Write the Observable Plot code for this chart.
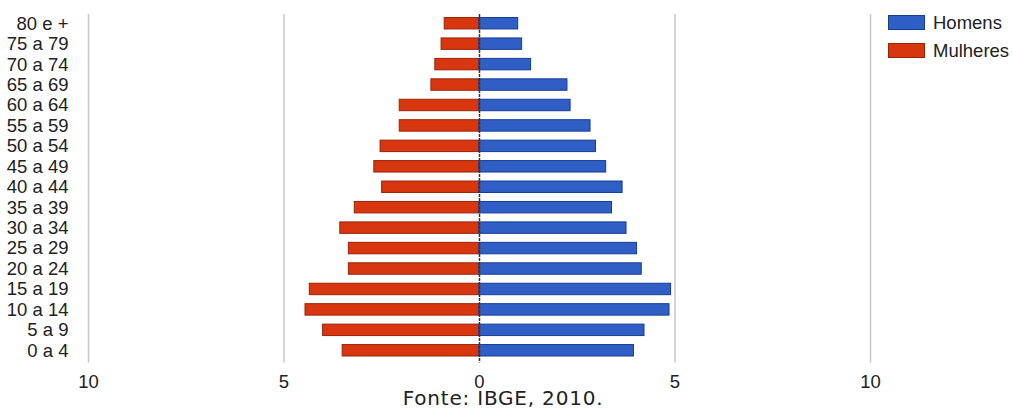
<!DOCTYPE html>
<html>
<head>
<meta charset="utf-8">
<script src="https://cdn.jsdelivr.net/npm/d3@7"></script>
<script src="https://cdn.jsdelivr.net/npm/@observablehq/plot@0.6"></script>
<style>
  html, body { margin: 0; padding: 0; background: #fff; }
  #wrap { position: relative; width: 1013px; height: 409px; overflow: hidden; }
  #legend { position: absolute; left: 888px; top: 8.5px; font-family: "Liberation Sans", Arial, sans-serif; font-size: 18.5px; color: #222; }
  .item { display: flex; align-items: center; height: 28px; }
  .sw { width: 37px; height: 15px; margin-right: 8px; box-sizing: border-box; }
  #caption { position: absolute; left: 0; width: 1006px; top: 386px; text-align: center; font-family: "DejaVu Sans", Verdana, sans-serif; font-size: 20px; letter-spacing: 0.8px; color: #222; }
</style>
</head>
<body>
<div id="wrap">
  <div id="chart"></div>
  <div id="legend"></div>
  <div id="caption">Fonte: IBGE, 2010.</div>
</div>
<script>
const ages = ["80 e +","75 a 79","70 a 74","65 a 69","60 a 64","55 a 59","50 a 54","45 a 49","40 a 44","35 a 39","30 a 34","25 a 29","20 a 24","15 a 19","10 a 14","5 a 9","0 a 4"];
const homens   = [0.99,1.09,1.32,2.25,2.33,2.84,2.98,3.24,3.66,3.39,3.76,4.03,4.15,4.90,4.86,4.22,3.95];
const mulheres = [0.89,0.97,1.13,1.23,2.04,2.04,2.53,2.69,2.49,3.19,3.56,3.34,3.34,4.34,4.45,4.00,3.50];
const xTicks = [-10,-5,0,5,10];
const gridTicks = [-10,-5,5,10];
const series = [
  {name: "Homens", fill: "#2f5fc4", stroke: "#173c96"},
  {name: "Mulheres", fill: "#d8360f", stroke: "#9a2308"}
];

const rows = ages.map((a, i) => ({age: a, homens: homens[i], mulheres: -mulheres[i]}));

const chart = Plot.plot({
  width: 1013,
  height: 409,
  marginLeft: 88,
  marginRight: 143,
  marginTop: 13,
  marginBottom: 48.5,
  style: {fontFamily: "'Liberation Sans', Arial, sans-serif", fontSize: "18.5px", color: "#222", background: "#fff"},
  x: {domain: [-10, 10], ticks: xTicks, tickFormat: d => Math.abs(d), tickSize: 0, tickPadding: 14, label: null},
  y: {domain: ages, paddingInner: 0.44, paddingOuter: 0.22, round: false, tickSize: 0, tickPadding: 20, label: null},
  marks: [
    Plot.ruleX(gridTicks, {stroke: "#c8c8c8", strokeWidth: 1.5, insetTop: 1, insetBottom: -2}),
    Plot.barX(rows, {x: "mulheres", y: "age", fill: series[1].fill, stroke: series[1].stroke, strokeWidth: 1}),
    Plot.barX(rows, {x: "homens", y: "age", fill: series[0].fill, stroke: series[0].stroke, strokeWidth: 1}),
    Plot.ruleX([0], {stroke: "#333", strokeWidth: 1.5, strokeDasharray: "3,1", insetTop: 1, insetBottom: -2})
  ]
});
document.getElementById("chart").appendChild(chart);

const leg = document.getElementById("legend");
series.forEach(s => {
  const it = document.createElement("div");
  it.className = "item";
  const sw = document.createElement("div");
  sw.className = "sw";
  sw.style.background = s.fill;
  sw.style.border = "1.5px solid " + s.stroke;
  const t = document.createElement("span");
  t.textContent = s.name;
  it.appendChild(sw); it.appendChild(t);
  leg.appendChild(it);
});
</script>
</body>
</html>
